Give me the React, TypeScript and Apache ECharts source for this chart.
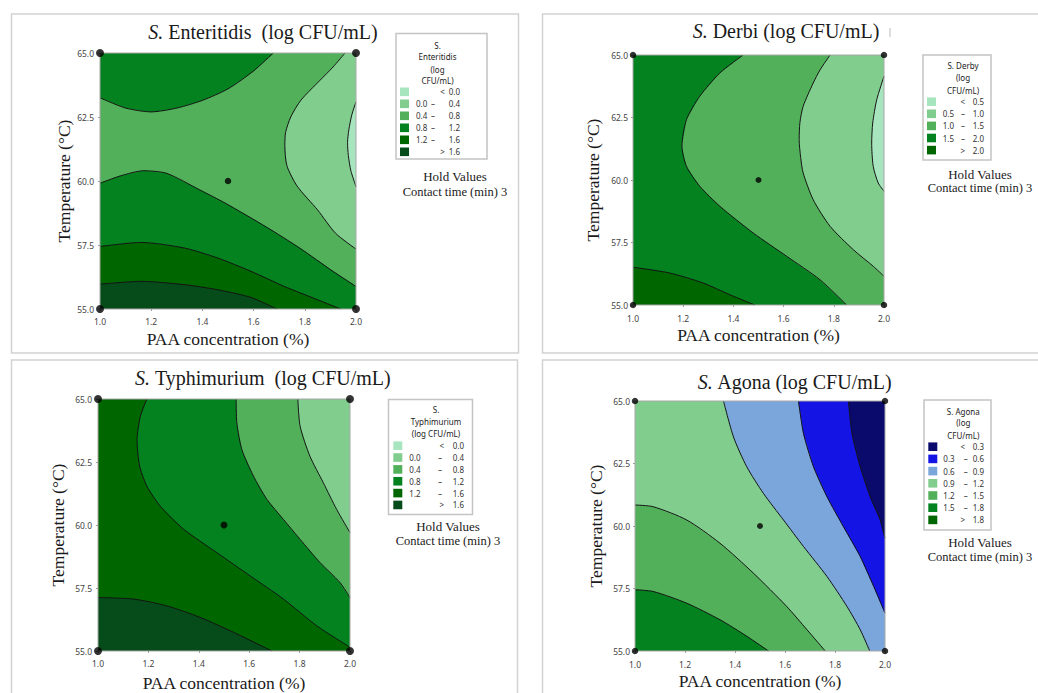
import { useEffect, useRef } from 'react';
import * as echarts from 'echarts';

const SERIF = '"Liberation Serif", "Times New Roman", serif';
const SANS = '"Noto Sans", "Open Sans", sans-serif';

// ---- axes / design ----
const PAA_MIN = 1.0;
const PAA_MAX = 2.0;
const PAA_STEP = 0.2;
const TEMP_MIN = 55;
const TEMP_MAX = 65;
const TEMP_STEP = 2.5;
const X_NAME = 'PAA concentration (%)';
const Y_NAME = 'Temperature (°C)';
const DESIGN_CORNERS = [[1.0, 55.0], [1.0, 65.0], [2.0, 55.0], [2.0, 65.0]];
const DESIGN_CENTER = [[1.5, 60.0]];
const PLOT_AREA = [[1.0, 55.0], [2.0, 55.0], [2.0, 65.0], [1.0, 65.0]];

// ---- S. Enteritidis contours ----
const ENT_LEVELS = ['0.0', '0.4', '0.8', '1.2', '1.6'];
const ENT_C00 = [[2.0, 63.09], [1.984, 62.6], [1.972, 62.0], [1.967, 61.5], [1.97, 61.0], [1.98, 60.4], [2.0, 59.78]];
const ENT_C04 = [[1.957, 65.0], [1.91, 64.45], [1.86, 63.94], [1.785, 63.16], [1.745, 62.5], [1.725, 61.9], [1.722, 61.4], [1.73, 60.6], [1.77, 59.8], [1.85, 58.87], [1.92, 57.96], [2.0, 57.34]];
const ENT_C08A = [[1.0, 63.25], [1.1, 62.85], [1.2, 62.7], [1.3, 62.85], [1.4, 63.15], [1.5, 63.6], [1.6, 64.3], [1.677, 65.0]];
const ENT_C08B = [[1.0, 59.91], [1.08, 60.2], [1.17, 60.4], [1.26, 60.3], [1.39, 59.65], [1.49, 59.13], [1.65, 58.2], [1.78, 57.38], [1.91, 56.47], [2.0, 55.88]];
const ENT_C12 = [[1.0, 57.44], [1.16, 57.6], [1.33, 57.38], [1.46, 56.99], [1.59, 56.47], [1.72, 55.88], [1.85, 55.36], [1.94, 55.0]];
const ENT_C16 = [[1.0, 55.97], [1.16, 56.08], [1.33, 55.95], [1.46, 55.75], [1.59, 55.45], [1.69, 55.0]];

// ---- S. Derby contours ----
const DER_LEVELS = ['0.5', '1.0', '1.5', '2.0'];
const DER_C05 = [[2.0, 64.15], [1.971, 63.21], [1.955, 62.28], [1.951, 61.48], [1.957, 60.55], [1.977, 59.88], [2.0, 59.55]];
const DER_C10 = [[1.785, 65.0], [1.745, 64.4], [1.718, 63.88], [1.678, 62.95], [1.665, 62.3], [1.662, 61.61], [1.668, 60.9], [1.678, 60.28], [1.718, 59.21], [1.785, 58.15], [1.878, 57.21], [1.957, 56.55], [2.0, 56.15]];
const DER_C15 = [[1.439, 65.0], [1.346, 64.28], [1.266, 63.35], [1.213, 62.41], [1.195, 61.35], [1.213, 60.55], [1.266, 59.75], [1.346, 58.95], [1.479, 57.88], [1.612, 56.95], [1.745, 56.01], [1.851, 55.0]];
const DER_C20 = [[1.0, 56.51], [1.146, 56.28], [1.279, 55.88], [1.386, 55.41], [1.485, 55.0]];

// ---- S. Typhimurium contours ----
const TYP_LEVELS = ['0.0', '0.4', '0.8', '1.2', '1.6'];
const TYP_C04 = [[1.793, 65.0], [1.802, 63.92], [1.841, 62.73], [1.894, 61.68], [1.947, 60.62], [2.0, 59.7]];
const TYP_C08 = [[1.548, 65.0], [1.551, 64.05], [1.571, 62.99], [1.617, 61.94], [1.67, 61.02], [1.736, 60.22], [1.802, 59.43], [1.881, 58.51], [1.96, 57.72], [2.0, 57.12]];
const TYP_C12 = [[1.194, 65.0], [1.168, 64.31], [1.155, 63.39], [1.165, 62.34], [1.194, 61.54], [1.247, 60.75], [1.34, 59.83], [1.472, 58.9], [1.604, 57.98], [1.736, 57.06], [1.868, 56.0], [2.0, 55.15]];
const TYP_C16 = [[1.0, 57.12], [1.141, 57.06], [1.273, 56.79], [1.406, 56.33], [1.538, 55.74], [1.69, 55.0]];

// ---- S. Agona contours ----
const AGO_LEVELS = ['0.3', '0.6', '0.9', '1.2', '1.5', '1.8'];
const AGO_C03 = [[1.854, 65.0], [1.868, 63.7], [1.901, 62.37], [1.941, 61.17], [1.981, 60.24], [2.0, 59.51]];
const AGO_C06 = [[1.654, 65.0], [1.674, 63.7], [1.714, 62.37], [1.768, 61.17], [1.834, 59.97], [1.901, 58.78], [1.955, 57.58], [2.0, 56.52]];
const AGO_C09 = [[1.354, 65.0], [1.394, 63.56], [1.447, 62.37], [1.514, 61.3], [1.594, 60.24], [1.674, 59.18], [1.768, 57.98], [1.848, 56.78], [1.901, 55.85], [1.939, 55.0]];
const AGO_C12 = [[1.0, 60.84], [1.073, 60.77], [1.207, 60.24], [1.34, 59.31], [1.474, 58.11], [1.607, 56.78], [1.688, 55.85], [1.761, 55.0]];
const AGO_C15 = [[1.0, 57.45], [1.073, 57.38], [1.207, 56.91], [1.34, 56.25], [1.447, 55.59], [1.534, 55.0]];

// ---- filled bands (painter's order; band = legend row) ----
const ENT_REGIONS = [
  { band: 2, poly: PLOT_AREA },
  { band: 3, poly: [...ENT_C08A, [1.0, 65.0]] },
  { band: 3, poly: [...ENT_C08B, [2.0, 55.0], [1.0, 55.0]] },
  { band: 4, poly: [...ENT_C12, [1.0, 55.0]] },
  { band: 5, poly: [...ENT_C16, [1.0, 55.0]] },
  { band: 1, poly: [...ENT_C04, [2.0, 65.0]] },
  { band: 0, poly: ENT_C00 },
];
const DER_REGIONS = [
  { band: 3, poly: PLOT_AREA },
  { band: 2, poly: [...DER_C15, [2.0, 55.0], [2.0, 65.0]] },
  { band: 1, poly: [...DER_C10, [2.0, 65.0]] },
  { band: 0, poly: DER_C05 },
  { band: 4, poly: [...DER_C20, [1.0, 55.0]] },
];
const TYP_REGIONS = [
  { band: 4, poly: PLOT_AREA },
  { band: 3, poly: [...TYP_C12, [2.0, 65.0]] },
  { band: 2, poly: [...TYP_C08, [2.0, 65.0]] },
  { band: 1, poly: [...TYP_C04, [2.0, 65.0]] },
  { band: 5, poly: [...TYP_C16, [1.0, 55.0]] },
];
const AGO_REGIONS = [
  { band: 3, poly: PLOT_AREA },
  { band: 2, poly: [...AGO_C09, [2.0, 55.0], [2.0, 65.0]] },
  { band: 1, poly: [...AGO_C06, [2.0, 65.0]] },
  { band: 0, poly: [...AGO_C03, [2.0, 65.0]] },
  { band: 4, poly: [...AGO_C12, [1.0, 55.0]] },
  { band: 5, poly: [...AGO_C15, [1.0, 55.0]] },
];

// ---- colours ----
const G0 = '#a7e5be';
const G1 = '#80cd8e';
const G2 = '#52b05a';
const G3 = '#03821f';
const G4 = '#006600';
const G5 = '#064c1a';
const B0 = '#0a0a6c';
const B1 = '#1414e4';
const B2 = '#7ba6db';
const GREENS6 = [G0, G1, G2, G3, G4, G5];
const GREENS5 = [G0, G1, G2, G3, G4];
const AGONA7 = [B0, B1, B2, G1, G2, G3, G4];

const PANELS = [
  {
    title: '{i|S.} Enteritidis  (log CFU/mL)', tx: 263, ty: 31.5,
    grid: { left: 100, top: 53, width: 256, height: 256 },
    xGap: 21, yGap: 27, xLab: 8, yLab: 6, corner: 8, center: 6.5,
    regions: ENT_REGIONS, lines: [ENT_C00, ENT_C04, ENT_C08A, ENT_C08B, ENT_C12, ENT_C16],
    levels: ENT_LEVELS, colors: GREENS6,
    legTitle: ['S.', 'Enteritidis', '(log', 'CFU/mL)'],
    leg: { box: [396, 33.5, 91, 125.5], tx: 437.5, ty: [45, 56.7, 69, 80.7], ry0: 91.8, rdy: 12, sx: 400, lx: 416, dx: 433, ox: 442.5, hx: 460 },
    hold: { x: 455, y1: 176.7, y2: 191.7 },
  },
  {
    title: '{i|S.} Derbi (log CFU/mL)', tx: 786, ty: 30.7,
    grid: { left: 633, top: 55, width: 251, height: 250 },
    xGap: 21, yGap: 31, xLab: 9, yLab: 5, corner: 6.5, center: 6,
    regions: DER_REGIONS, lines: [DER_C05, DER_C10, DER_C15, DER_C20],
    levels: DER_LEVELS, colors: GREENS5,
    legTitle: ['S. Derby', '(log', 'CFU/mL)'],
    leg: { box: [923, 55, 68, 105], tx: 963, ty: [65.7, 77.7, 90], ry0: 101.7, rdy: 12.1, sx: 927, lx: 942.7, dx: 963, ox: 962.7, hx: 984 },
    hold: { x: 980, y1: 174, y2: 188.3 },
  },
  {
    title: '{i|S.} Typhimurium  (log CFU/mL)', tx: 263, ty: 378.3,
    grid: { left: 98, top: 399, width: 252, height: 253 },
    xGap: 23, yGap: 31, xLab: 8, yLab: 6, corner: 8, center: 7,
    regions: TYP_REGIONS, lines: [TYP_C04, TYP_C08, TYP_C12, TYP_C16],
    levels: TYP_LEVELS, colors: GREENS6,
    legTitle: ['S.', 'Typhimurium', '(log CFU/mL)'],
    leg: { box: [388.5, 399.5, 84, 115], tx: 436, ty: [409.3, 421.3, 433.3], ry0: 445.7, rdy: 11.85, sx: 393.3, lx: 409.3, dx: 440, ox: 441.7, hx: 464 },
    hold: { x: 448, y1: 526, y2: 540.7 },
  },
  {
    title: '{i|S.} Agona (log CFU/mL)', tx: 795, ty: 382.3,
    grid: { left: 635, top: 401, width: 250, height: 250 },
    xGap: 21, yGap: 30, xLab: 9, yLab: 5, corner: 6.5, center: 6,
    regions: AGO_REGIONS, lines: [AGO_C03, AGO_C06, AGO_C09, AGO_C12, AGO_C15],
    levels: AGO_LEVELS, colors: AGONA7,
    legTitle: ['S. Agona', '(log', 'CFU/mL)'],
    leg: { box: [924, 400, 67, 130], tx: 963.3, ty: [411, 422.7, 435], ry0: 446.7, rdy: 12.2, sx: 928.3, lx: 943.3, dx: 965.7, ox: 962.7, hx: 984 },
    hold: { x: 980, y1: 542.7, y2: 556.7 },
  },
];

function legendRows(levels: string[]) {
  const rows: { op?: string; lo?: string; hi: string }[] = [];
  rows.push({ op: '<', hi: levels[0] });
  for (let i = 0; i < levels.length - 1; i++) rows.push({ lo: levels[i], hi: levels[i + 1] });
  rows.push({ op: '>', hi: levels[levels.length - 1] });
  return rows;
}

function txt(x: number, y: number, text: string, size: number, family: string, align = 'center', fill = '#333') {
  return { type: 'text', x, y, silent: true, style: { text, fontSize: size, fontFamily: family, fill, align, verticalAlign: 'middle' } };
}

function buildOption() {
  const grid: any[] = [];
  const xAxis: any[] = [];
  const yAxis: any[] = [];
  const series: any[] = [];
  const graphic: any[] = [];

  // panel frames
  const frames = [[11.5, 14, 507, 339], [542.5, 14, 520, 339], [11.5, 360, 506, 360], [542.5, 360, 520, 360]];
  frames.forEach(([x, y, w, h]) => {
    graphic.push({ type: 'rect', shape: { x, y, width: w, height: h }, style: { fill: 'none', stroke: '#d2d2d2', lineWidth: 1.5 }, silent: true, z: -10 });
  });
  graphic.push({ type: 'line', shape: { x1: 890, y1: 28, x2: 890, y2: 37 }, style: { stroke: '#bbbbbb', lineWidth: 1 }, silent: true });

  PANELS.forEach((p, i) => {
    grid.push({ ...p.grid, show: false });
    xAxis.push({
      gridIndex: i, type: 'value', min: PAA_MIN, max: PAA_MAX, interval: PAA_STEP,
      name: X_NAME, nameLocation: 'middle', nameGap: p.xGap,
      nameTextStyle: { fontFamily: SERIF, fontSize: 17.5, color: '#1a1a1a' },
      axisLine: { show: false }, axisTick: { show: true, length: 2, lineStyle: { color: '#999' } },
      axisLabel: { fontSize: 8.5, color: '#444', fontFamily: SANS, margin: p.xLab, formatter: (v: number) => v.toFixed(1) },
      splitLine: { show: false },
    });
    yAxis.push({
      gridIndex: i, type: 'value', min: TEMP_MIN, max: TEMP_MAX, interval: TEMP_STEP,
      name: Y_NAME, nameLocation: 'middle', nameGap: p.yGap,
      nameTextStyle: { fontFamily: SERIF, fontSize: 17.5, color: '#1a1a1a' },
      axisLine: { show: false }, axisTick: { show: true, length: 2, lineStyle: { color: '#999' } },
      axisLabel: { fontSize: 8.5, color: '#444', fontFamily: SANS, margin: p.yLab, formatter: (v: number) => v.toFixed(1) },
      splitLine: { show: false },
    });
    const regions = p.regions;
    const colors = p.colors;
    series.push({
      type: 'custom', name: 'bands' + i, xAxisIndex: i, yAxisIndex: i, clip: true, silent: true, z: 1,
      data: regions.map((r) => r.poly[0]),
      renderItem: (params: any, api: any) => {
        const r = regions[params.dataIndex];
        return { type: 'polygon', shape: { points: r.poly.map((pt: number[]) => api.coord(pt)) }, style: { fill: colors[r.band], stroke: colors[r.band], lineWidth: 0.5 } };
      },
    });
    p.lines.forEach((ln, k) => {
      series.push({
        type: 'line', name: `contour${i}_${k}`, xAxisIndex: i, yAxisIndex: i, data: ln,
        showSymbol: false, smooth: 0.25, silent: true, z: 3, clip: true,
        lineStyle: { color: '#141414', width: 1 },
      });
    });
    series.push({
      type: 'custom', name: 'frame' + i, xAxisIndex: i, yAxisIndex: i, clip: false, silent: true, z: 4,
      data: [PLOT_AREA[0]],
      renderItem: (_params: any, api: any) => ({
        type: 'polygon', shape: { points: PLOT_AREA.map((pt) => api.coord(pt)) }, style: { fill: 'none', stroke: '#a8a8a8', lineWidth: 1 },
      }),
    });
    series.push({
      type: 'scatter', xAxisIndex: i, yAxisIndex: i, data: DESIGN_CORNERS, symbolSize: p.corner, clip: false, silent: true, z: 5,
      itemStyle: { color: '#000' },
    });
    series.push({
      type: 'scatter', xAxisIndex: i, yAxisIndex: i, data: DESIGN_CENTER, symbolSize: p.center, clip: false, silent: true, z: 5,
      itemStyle: { color: '#000' },
    });

    // title
    graphic.push({
      type: 'text', x: p.tx, y: p.ty, silent: true,
      style: {
        text: p.title, fontSize: 20, fontFamily: SERIF, fill: '#1a1a1a', align: 'center', verticalAlign: 'middle',
        rich: { i: { fontStyle: 'italic', fontSize: 20, fontFamily: SERIF, fill: '#1a1a1a' } },
      },
    });

    // legend
    const L = p.leg;
    graphic.push({ type: 'rect', shape: { x: L.box[0], y: L.box[1], width: L.box[2], height: L.box[3] }, style: { fill: '#fff', stroke: '#c4c4c4', lineWidth: 1.5 }, silent: true });
    p.legTitle.forEach((t, k) => graphic.push(txt(L.tx, L.ty[k], t, 8, SANS, 'center', '#222')));
    legendRows(p.levels).forEach((row, k) => {
      const y = L.ry0 + k * L.rdy;
      graphic.push({ type: 'rect', shape: { x: L.sx, y: y - 4.3, width: 9, height: 8.6 }, style: { fill: colors[k] }, silent: true });
      if (row.op) {
        graphic.push(txt(L.ox, y, row.op, 8, SANS));
      } else {
        graphic.push(txt(L.lx, y, row.lo as string, 8, SANS, 'left'));
        graphic.push(txt(L.dx, y, '–', 8, SANS));
      }
      graphic.push(txt(L.hx, y, row.hi, 8, SANS, 'right'));
    });
    graphic.push(txt(p.hold.x, p.hold.y1, 'Hold Values', 13, SERIF, 'center', '#1a1a1a'));
    graphic.push(txt(p.hold.x, p.hold.y2, 'Contact time (min) 3', 12.5, SERIF, 'center', '#1a1a1a'));
  });

  return { animation: false, backgroundColor: '#ffffff', grid, xAxis, yAxis, series, graphic };
}

export default function App() {
  const ref = useRef<HTMLDivElement>(null);
  useEffect(() => {
    document.body.style.margin = '0';
    const chart = echarts.init(ref.current as HTMLDivElement, null, { renderer: 'svg' });
    chart.setOption(buildOption() as any);
    return () => chart.dispose();
  }, []);
  return <div ref={ref} style={{ width: 1038, height: 693, background: '#fff' }} />;
}
